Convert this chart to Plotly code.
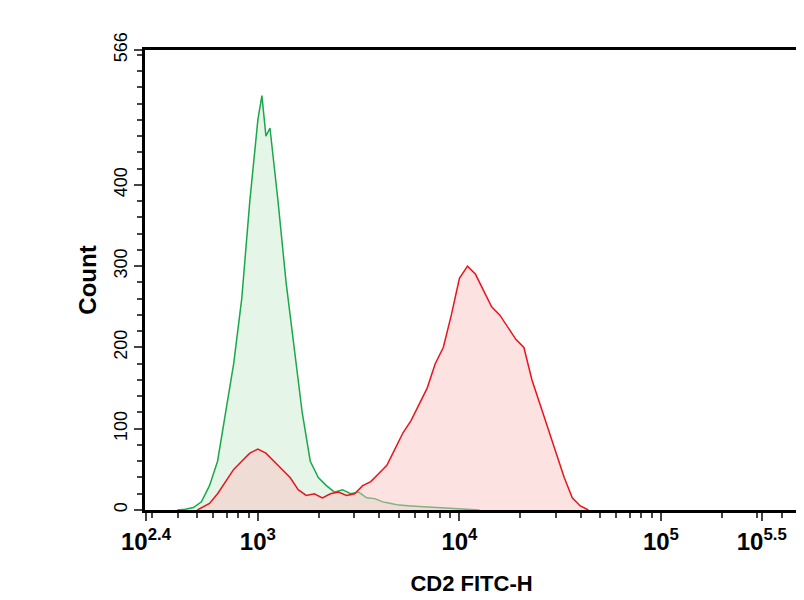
import plotly.graph_objects as go

# log10 fluorescence positions and counts
green_logx = [2.60, 2.64, 2.68, 2.72, 2.76, 2.80, 2.84, 2.88, 2.92, 2.96, 3.00, 3.02, 3.04, 3.06, 3.10, 3.14,
              3.18, 3.22, 3.26, 3.30, 3.34, 3.38, 3.42, 3.46, 3.50, 3.54, 3.58, 3.62, 3.66, 3.70, 3.76,
              3.82, 3.88, 3.94, 4.00, 4.10]
green_count = [0, 1, 3, 10, 30, 60, 120, 180, 260, 380, 480, 510, 460, 470, 380, 280,
               200, 120, 60, 40, 30, 22, 25, 20, 22, 15, 14, 10, 8, 6, 5,
               4, 3, 2, 1, 0]

red_logx = [2.70, 2.76, 2.80, 2.84, 2.88, 2.92, 2.96, 3.00, 3.04, 3.08, 3.12, 3.16, 3.20, 3.24, 3.28, 3.32,
            3.36, 3.40, 3.44, 3.48, 3.52, 3.56, 3.60, 3.64, 3.68, 3.72, 3.76, 3.80, 3.84, 3.88, 3.92,
            3.96, 4.00, 4.04, 4.08, 4.12, 4.16, 4.20, 4.24, 4.28, 4.32, 4.36, 4.40, 4.44, 4.48, 4.52,
            4.56, 4.60, 4.64]
red_count = [0, 8, 20, 35, 50, 60, 70, 75, 70, 60, 50, 40, 25, 18, 20, 15,
             20, 22, 18, 20, 30, 35, 45, 55, 75, 95, 110, 130, 150, 180, 200,
             240, 285, 300, 290, 270, 250, 240, 225, 210, 200, 160, 130, 100, 70, 40,
             15, 5, 0]

xtick_vals = [10 ** 2.445, 1e3, 1e4, 1e5, 10 ** 5.5]
xtick_text = ["10<sup>2.4</sup>", "10<sup>3</sup>", "10<sup>4</sup>", "10<sup>5</sup>", "10<sup>5.5</sup>"]
ytick_vals = [0, 100, 200, 300, 400, 566]
ytick_text = ["0", "100", "200", "300", "400", "566"]

fig = go.Figure()
fig.add_trace(go.Scatter(x=[10 ** v for v in green_logx], y=green_count, mode="lines",
                         line=dict(color="#1aa84a", width=1.5), fill="tozeroy",
                         fillcolor="rgba(180,225,190,0.35)"))
fig.add_trace(go.Scatter(x=[10 ** v for v in red_logx], y=red_count, mode="lines",
                         line=dict(color="#e8141e", width=1.5), fill="tozeroy",
                         fillcolor="rgba(250,190,190,0.45)"))

fig.update_layout(
    width=804, height=600, showlegend=False,
    plot_bgcolor="white", paper_bgcolor="white",
    margin=dict(l=137, r=14, t=42, b=98),
    font=dict(family="Liberation Sans", size=20, color="black"),
)
fig.update_xaxes(type="log", range=[2.44, 5.68], tickvals=xtick_vals, ticktext=xtick_text,
                 showgrid=False, zeroline=False, showline=True, mirror=True, linecolor="black",
                 linewidth=3, ticks="outside", ticklen=8, tickwidth=2,
                 minor=dict(ticks="outside", dtick="D1", ticklen=5, tickwidth=1.5, showgrid=False),
                 tickfont=dict(size=24, color="black", weight="bold"),
                 title=dict(text="CD2 FITC-H", font=dict(size=22, weight="bold"), standoff=22))
fig.update_yaxes(range=[0, 566], tickvals=ytick_vals, ticktext=ytick_text, tickangle=-90,
                 showgrid=False, zeroline=False, showline=True, mirror=True, linecolor="black",
                 linewidth=3, ticks="outside", ticklen=8, tickwidth=2,
                 minor=dict(ticks="outside", dtick=20, tick0=0, ticklen=5, tickwidth=1.5, showgrid=False),
                 tickfont=dict(size=18), title=dict(text="Count", font=dict(weight="bold"), standoff=8))

fig.write_html("out.html")
